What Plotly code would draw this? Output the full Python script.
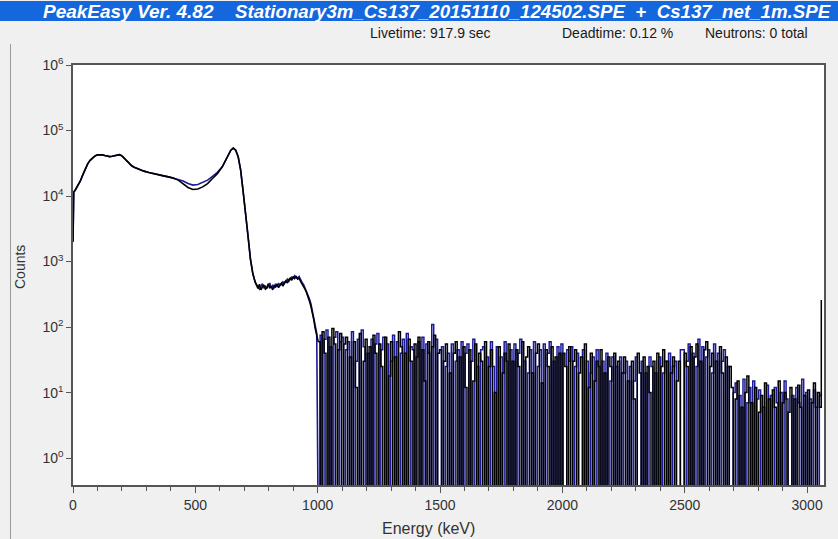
import numpy as np
import plotly.graph_objects as go

# ---------------- data ----------------
energy_smooth = [0, 3, 10, 20, 30, 40, 50, 60, 70, 80, 90, 100, 110, 120, 130, 140, 150, 160, 170, 180,
                 190, 200, 210, 220, 230, 240, 250, 270, 290, 310, 330, 350, 370, 390, 410, 430, 450, 470, 490, 510,
                 530, 550, 570, 590, 610, 630, 645, 655, 665, 675, 685, 695, 705, 715, 725, 735, 745]
black_smooth = [2000, 11500, 12500, 14500, 17000, 21000, 26000, 31000, 35000, 38500,
                41000, 42500, 43000, 42500, 41500, 40500, 40000, 40500, 41500, 42500,
                42800, 41000, 37500, 34000, 31000, 29000, 27500, 25500, 24000, 22800,
                21800, 21000, 20300, 19600, 18800, 17500, 15500, 13500, 12600, 12800,
                13800, 15500, 18500, 22000, 28000, 39000, 50000, 54000, 50000, 40000,
                25000, 12000, 6000, 2500, 1100, 650, 480]
blue_smooth = [2000, 11500, 12500, 14500, 17000, 21000, 26000, 31000, 35000, 38500,
               41000, 42500, 43000, 42500, 41500, 40500, 40000, 40500, 41500, 42500,
               42800, 41000, 37500, 34000, 31000, 29000, 27500, 25500, 24000, 22800,
               21800, 21000, 20300, 19600, 18800, 18000, 17000, 15500, 14700, 15000,
               16000, 17500, 20000, 23000, 28000, 39000, 50000, 54000, 50000, 40000,
               25000, 12000, 6000, 2500, 1100, 650, 480]

# Compton-edge plateau, channels of 6 keV from 750 keV
plateau_start, plateau_step = 750, 6
black_plateau = [420, 390, 450, 370, 410, 440, 380, 400, 460, 390,
                 420, 370, 430, 410, 450, 400, 440, 470, 420, 480,
                 510, 470, 530, 560, 520, 590, 550, 600, 540, 560,
                 500, 460, 430, 380, 340, 300, 250, 210, 170, 130,
                 95, 70]
blue_plateau = [440, 410, 380, 430, 460, 400, 420, 390, 440, 470,
                400, 430, 390, 460, 420, 470, 430, 450, 490, 460,
                500, 540, 500, 550, 580, 560, 610, 570, 550, 590,
                520, 480, 450, 400, 360, 320, 270, 230, 180, 140,
                105, 80]

# high-energy region, bins of 8 keV from 1002 keV (0 = no counts)
noise_start, noise_step = 1002, 8
black_noise = [
    60, 0, 85, 40, 0, 70, 0, 95, 55, 0, 45, 80,
    0, 55, 70, 0, 35, 0, 60, 12, 0, 80, 0, 30, 65, 0, 50, 0, 75, 40, 0, 55,
    25, 0, 70, 0, 18, 60, 0, 35, 0, 85, 50, 0, 40, 0, 65, 30, 0, 55, 0, 70,
    0, 45, 15, 0, 60, 0, 50, 75, 0, 40,
    45, 0, 30, 55, 0, 20, 0, 40, 60, 0, 35, 0, 50, 12, 0, 45, 0, 15, 55, 0,
    40, 30, 0, 60, 0, 25, 45, 0, 10, 0, 50, 0, 20, 40, 0, 55, 0, 30, 0, 45,
    25, 0, 60, 0, 35, 50, 0, 20, 0, 40, 55, 0, 14, 0, 45, 25, 0, 50, 0, 35,
    0, 40,
    0, 40, 25, 0, 50, 0, 30, 45, 0, 20, 35, 0, 55, 0, 12, 40, 0, 15, 30, 0,
    45, 0, 20, 0, 35, 25, 0, 40, 0, 30, 0, 20, 35, 0, 15, 0, 30, 8, 0, 40,
    20, 0, 35, 0, 25, 10, 0, 30, 0, 40, 0, 25, 45, 0, 30, 0, 20, 35, 0, 15,
    30, 0,
    0, 40, 25, 0, 50, 0, 35, 55, 0, 30, 0, 45, 60, 0, 25, 40, 0, 30, 0, 50,
    20, 0, 35, 0, 25,
    12, 0, 8, 15, 0, 6, 0, 10, 18, 0, 7, 0, 12, 0, 5, 9, 0, 14, 0, 8,
    0, 11, 6, 0, 15, 0, 7, 10, 0, 5, 12, 0, 8, 0, 13, 6, 0, 9, 0, 11,
    0, 7, 14, 0, 10, 6, 260]
blue_noise = [
    0, 75, 0, 65, 90, 0, 50, 0, 70, 85, 0, 60,
    70, 0, 45, 60, 0, 85, 0, 30, 65, 0, 90, 50, 0, 40, 0, 65, 0, 55, 80, 0,
    45, 70, 0, 55, 0, 30, 75, 0, 60, 0, 40, 65, 0, 80, 0, 50, 45, 0, 35, 60,
    0, 70, 0, 55, 40, 0, 110, 0, 65, 0,
    0, 50, 0, 25, 40, 0, 55, 0, 30, 45, 0, 60, 0, 40, 55, 0, 30, 65, 0, 25,
    0, 45, 50, 0, 35, 0, 60, 25, 0, 50, 0, 35, 0, 60, 30, 0, 45, 0, 55, 0,
    40, 65, 0, 30, 0, 20, 45, 0, 60, 0, 25, 45, 0, 55, 0, 40, 60, 0, 30, 0,
    50, 0,
    55, 0, 0, 45, 30, 50, 0, 25, 40, 0, 0, 45, 0, 30, 0, 20, 35, 0, 45, 25,
    0, 30, 0, 40, 0, 15, 35, 0, 25, 0, 35, 0, 20, 30, 0, 25, 0, 15, 35, 0,
    0, 30, 0, 20, 0, 35, 25, 0, 20, 0, 35, 0, 20, 30, 0, 40, 0, 25, 30, 0,
    0, 45,
    45, 0, 30, 55, 0, 40, 0, 25, 65, 0, 50, 0, 35, 45, 0, 20, 55, 0, 40, 0,
    30, 45, 0, 25, 0,
    0, 10, 14, 0, 9, 0, 16, 0, 7, 12, 0, 15, 0, 8, 11, 0, 6, 0, 13, 0,
    9, 0, 12, 7, 0, 10, 0, 15, 8, 0, 0, 9, 0, 12, 7, 0, 16, 0, 10, 0,
    8, 0, 11, 6, 0, 9, 10]

x_tick_values = [0, 500, 1000, 1500, 2000, 2500, 3000]
y_tick_values = [1, 10, 100, 1000, 10000, 100000, 1000000]
y_tick_labels = ["10<sup>0</sup>", "10<sup>1</sup>", "10<sup>2</sup>", "10<sup>3</sup>",
                 "10<sup>4</sup>", "10<sup>5</sup>", "10<sup>6</sup>"]

title_left = "PeakEasy Ver. 4.82"
title_right = "Stationary3m_Cs137_20151110_124502.SPE  +  Cs137_net_1m.SPE"
info_texts = ["Livetime: 917.9 sec", "Deadtime: 0.12 %", "Neutrons: 0 total"]
x_title = "Energy (keV)"
y_title = "Counts"

# ---------------- build ----------------
FLOOR = 0.1  # zero counts drawn down past the bottom of the log axis
plateau_E = plateau_start + plateau_step * np.arange(len(black_plateau))
noise_E = noise_start + noise_step * np.arange(len(black_noise))

def disp(vals):
    return [v if v > 0 else FLOOR for v in vals]

BLUE = "#1a1a98"
BLACK = "#000000"

W, H = 838, 539
L, R, T, B = 73, 14, 65, 54
pw, ph = W - L - R, H - T - B

def px(x):
    return (x - L) / pw

def py(y):
    return (H - B - y) / ph

fig = go.Figure()
fig.add_trace(go.Scatter(x=noise_E, y=disp(blue_noise), mode="lines", line_shape="hv",
                         line=dict(color=BLUE, width=1.5), hoverinfo="skip"))
fig.add_trace(go.Scatter(x=noise_E, y=disp(black_noise), mode="lines", line_shape="hv",
                         line=dict(color=BLACK, width=1.5), hoverinfo="skip"))
fig.add_trace(go.Scatter(x=list(energy_smooth) + list(plateau_E) + [noise_E[0]],
                         y=blue_smooth + blue_plateau + [disp(blue_noise)[0]],
                         mode="lines", line=dict(color=BLUE, width=1.6), hoverinfo="skip"))
fig.add_trace(go.Scatter(x=list(energy_smooth) + list(plateau_E) + [noise_E[0]],
                         y=black_smooth + black_plateau + [disp(black_noise)[0]],
                         mode="lines", line=dict(color=BLACK, width=1.6), hoverinfo="skip"))

font_family = "Liberation Sans, Arial, sans-serif"

shapes = [
    dict(type="rect", xref="paper", yref="paper", x0=px(0), x1=px(W), y0=py(21), y1=py(1),
         fillcolor="#1467dd", line=dict(width=0), layer="below"),
    dict(type="line", xref="paper", yref="paper", x0=px(10.5), x1=px(10.5), y0=py(44), y1=py(H),
         line=dict(color="#9a9a9a", width=1)),
]

annotations = [
    dict(text="<b><i>" + title_left + "</i></b>", x=px(41), y=py(11), xref="paper", yref="paper",
         xanchor="left", yanchor="middle", showarrow=False,
         font=dict(family=font_family, size=19, color="white")),
    dict(text="<b><i>" + title_right.replace(" ", "\u00a0") + "</i></b>", x=px(233), y=py(11),
         xref="paper", yref="paper", xanchor="left", yanchor="middle", showarrow=False,
         font=dict(family=font_family, size=18.7, color="white")),
    dict(text=x_title, x=px(428), y=py(528), xref="paper", yref="paper",
         xanchor="center", yanchor="middle", showarrow=False,
         font=dict(family=font_family, size=16, color="#333333")),
    dict(text=y_title, x=px(20), y=py(267), xref="paper", yref="paper", textangle=-90,
         xanchor="center", yanchor="middle", showarrow=False,
         font=dict(family=font_family, size=14, color="#333333")),
]
for txt, xl in zip(info_texts, [368, 560, 703]):
    annotations.append(dict(text=txt, x=px(xl), y=py(33), xref="paper", yref="paper",
                            xanchor="left", yanchor="middle", showarrow=False,
                            font=dict(family=font_family, size=14, color="#1a1a1a")))

fig.update_layout(
    width=W, height=H,
    margin=dict(l=L, r=R, t=T, b=B, pad=0, autoexpand=False),
    paper_bgcolor="#f0f0f0", plot_bgcolor="white",
    showlegend=False,
    shapes=shapes, annotations=annotations,
    font=dict(family=font_family, size=13, color="#333333"),
)
fig.update_xaxes(range=[0, pw / 0.2447], tickvals=x_tick_values, ticks="outside", ticklen=6,
                 tickcolor="#555555", tickwidth=1, showgrid=False, zeroline=False,
                 showline=True, linecolor="#555555", linewidth=1.5, mirror=True, automargin=False,
                 minor=dict(dtick=100, ticks="outside", ticklen=4, tickcolor="#555555"),
                 tickfont=dict(size=14, color="#333333"))
fig.update_yaxes(type="log", range=[-0.41, 6.0], tickvals=y_tick_values, ticktext=y_tick_labels,
                 ticks="outside", ticklen=5, tickcolor="#555555", showgrid=False, zeroline=False,
                 showline=True, linecolor="#555555", linewidth=1.5, mirror=True, automargin=False,
                 tickfont=dict(size=14, color="#333333"))

fig.write_html("out.html", config={"displayModeBar": False},
               post_script="document.body.style.margin='0';document.body.style.overflow='hidden';")
